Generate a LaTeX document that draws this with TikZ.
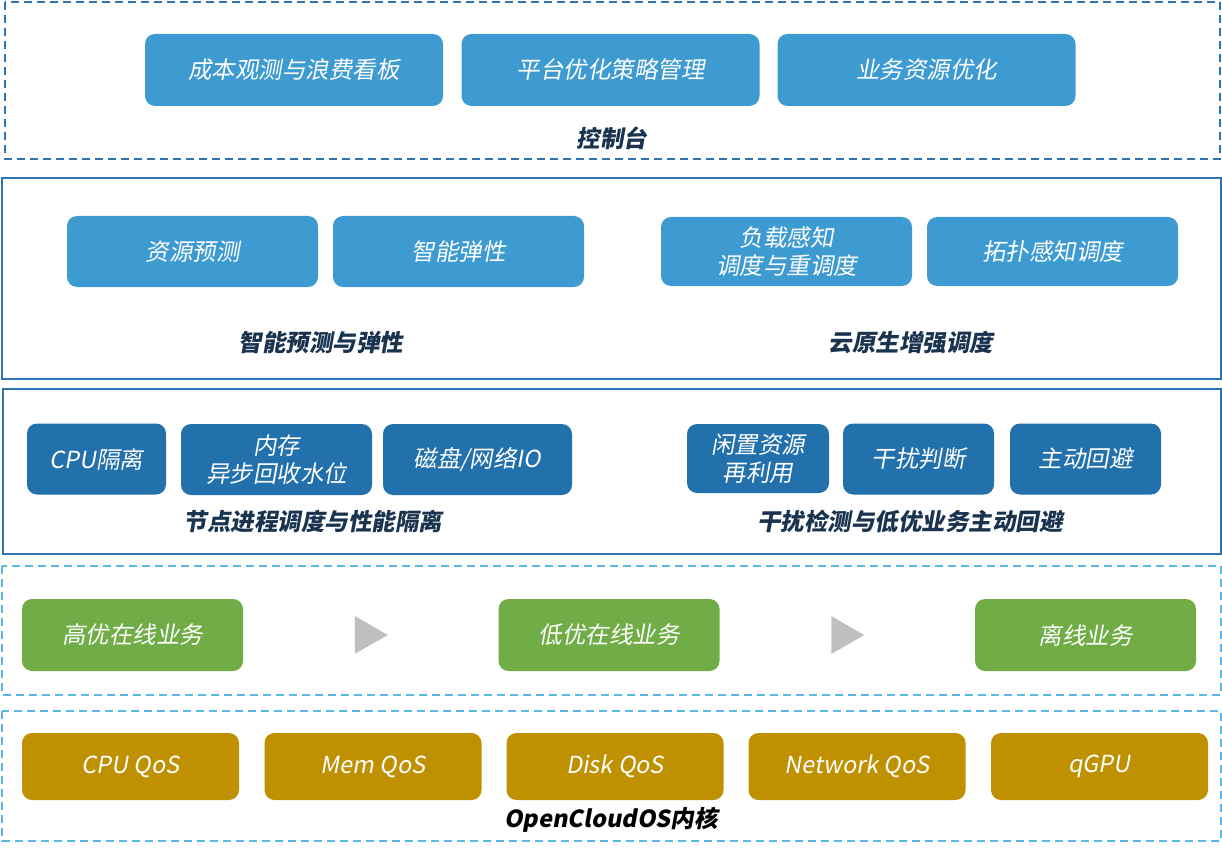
\documentclass[tikz,border=0pt]{standalone}
\usepackage{fontspec}
\usepackage{tikz}
\usetikzlibrary{calc}
\newfontfamily\cjk[FakeSlant=0.18]{Noto Sans CJK SC}

\definecolor{frameblue}{HTML}{2E75B6}
\definecolor{dashblue}{HTML}{5BB8E6}
\definecolor{boxblue}{HTML}{3E9BD2}
\definecolor{deepblue}{HTML}{2270AC}
\definecolor{onlinegreen}{HTML}{70AD47}
\definecolor{qosgold}{HTML}{BF9000}
\definecolor{labelnavy}{HTML}{1A3450}
\definecolor{arrowgray}{HTML}{BFBFBF}

\begin{document}
\begin{tikzpicture}[x=1pt,y=-1pt,
  module/.style={rounded corners=10pt, inner sep=0pt, text=white, align=center,
    font=\cjk\fontsize{23.5}{28}\selectfont},
  upper/.style={module, fill=boxblue},
  lower/.style={module, fill=deepblue},
  online/.style={module, fill=onlinegreen, minimum width=221pt, minimum height=72pt},
  qos/.style={module, fill=qosgold, minimum width=217pt, minimum height=67pt},
  layer/.style={text=labelnavy, font=\cjk\bfseries\fontsize{23.5}{26}\selectfont},
  solidframe/.style={draw=frameblue, line width=1.6pt},
  dashframe/.style={line width=1.6pt, dash pattern=on 8pt off 5pt}]
  \useasboundingbox (0,0) rectangle (1222,850);

  % Console layer
  \draw[dashframe, draw=frameblue] (5,2) rectangle (1220,159);
  \node[upper, minimum width=298pt, minimum height=72pt] (cost) at (294,70) {成本观测与浪费看板};
  \node[upper, minimum width=298pt, minimum height=72pt] (policy) at (610.5,70) {平台优化策略管理};
  \node[upper, minimum width=298pt, minimum height=72pt] (bizopt) at (926.5,70) {业务资源优化};
  \node[layer] (console) at (612,138) {控制台};

  % Prediction and scheduling layer
  \draw[solidframe] (2,178) rectangle (1221,379);
  \node[upper, minimum width=251pt, minimum height=71pt] (predict) at (192.5,251.5) {资源预测};
  \node[upper, minimum width=251pt, minimum height=71pt] (elastic) at (458.5,251.5) {智能弹性};
  \node[upper, minimum width=251pt, minimum height=69pt] (loadaware) at (786.5,251.5) {负载感知\\调度与重调度};
  \node[upper, minimum width=251pt, minimum height=69pt] (topoaware) at (1052.5,251.5) {拓扑感知调度};
  \node[layer] (predlabel) at (321,343) {智能预测与弹性};
  \node[layer] (schedlabel) at (911,343) {云原生增强调度};

  % Isolation and interference layer
  \draw[solidframe] (3,389) rectangle (1221,554);
  \node[lower, minimum width=139pt, minimum height=71pt] (cpuiso) at (96.5,459) {CPU隔离};
  \node[lower, minimum width=191pt, minimum height=71pt] (memwm) at (276.5,459.5) {内存\\异步回收水位};
  \node[lower, minimum width=189pt, minimum height=71pt] (diskio) at (477.5,459.5) {磁盘/网络IO};
  \node[lower, minimum width=142pt, minimum height=69pt] (idle) at (758,458.5) {闲置资源\\再利用};
  \node[lower, minimum width=151pt, minimum height=71pt] (interf) at (918.5,459) {干扰判断};
  \node[lower, minimum width=151pt, minimum height=71pt] (avoid) at (1085.5,459) {主动回避};
  \node[layer] (isolabel) at (313,521) {节点进程调度与性能隔离};
  \node[layer] (avoidlabel) at (910,521) {干扰检测与低优业务主动回避};

  % Workload priority layer
  \draw[dashframe, draw=dashblue] (2,566) rectangle (1221,695);
  \node[online] (highon) at (132.5,635) {高优在线业务};
  \node[online] (lowon) at (609,635) {低优在线业务};
  \node[online] (offline) at (1085.5,635) {离线业务};
  \coordinate (t1) at ($(highon)!0.5!(lowon)$);
  \coordinate (t2) at ($(lowon)!0.5!(offline)$);
  \fill[arrowgray] ($(t1)+(-16,-19)$) -- ($(t1)+(17,0)$) -- ($(t1)+(-16,19)$) -- cycle;
  \fill[arrowgray] ($(t2)+(-16,-19)$) -- ($(t2)+(17,0)$) -- ($(t2)+(-16,19)$) -- cycle;

  % Kernel layer
  \draw[dashframe, draw=dashblue] (2,711) rectangle (1221,841);
  \node[qos] (cpuqos) at (130.5,766.5) {CPU QoS};
  \node[qos] (memqos) at (373,766.5) {Mem QoS};
  \node[qos] (diskqos) at (615,766.5) {Disk QoS};
  \node[qos] (netqos) at (857,766.5) {Network QoS};
  \node[qos] (qgpu) at (1099.5,766.5) {qGPU};
  \node[layer, text=black] (kernel) at (611,820) {OpenCloudOS内核};
\end{tikzpicture}
\end{document}
